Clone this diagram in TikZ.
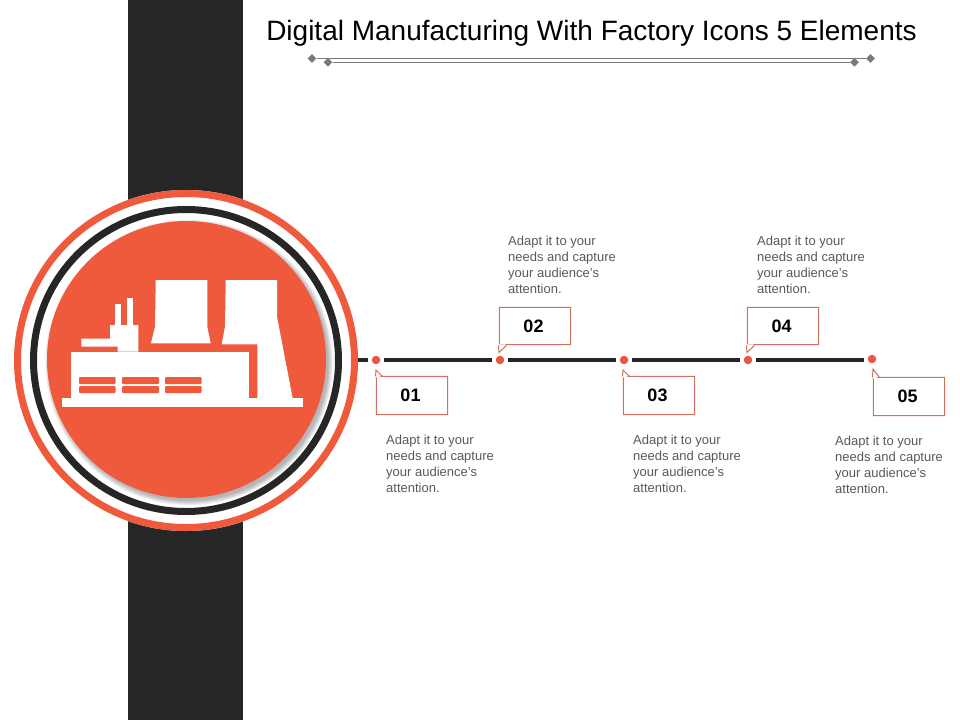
\documentclass[tikz,border=0pt]{standalone}
\usepackage{fontspec}
\setmainfont{Liberation Sans}
\usetikzlibrary{shapes.geometric}
\definecolor{accent}{HTML}{F05A3C}
\definecolor{dotcolor}{HTML}{E8583F}
\definecolor{band}{HTML}{262626}
\definecolor{bodytext}{HTML}{595959}
\definecolor{rulegray}{HTML}{7A7A7A}
\definecolor{boxline}{HTML}{D0705F}
\tikzset{
  x=1pt,y=-1pt,
  dotnode/.style={circle,fill=dotcolor,draw=none,minimum size=8.5pt,inner sep=0pt},
  seg/.style={draw=band,line width=4pt,shorten <=3.7pt,shorten >=3.7pt},
  boxnode/.style={rectangle,draw=boxline,fill=white,line width=1pt,minimum width=71pt,minimum height=37.5pt,inner sep=0pt,font=\fontsize{18}{20}\selectfont\bfseries,text=black},
  tip/.style={draw=boxline,line width=1pt,line join=miter},
  glow/.style={draw=accent,opacity=0.10,line width=3pt},
  bodytxt/.style={anchor=north west,inner sep=0pt,align=left,text=bodytext,font=\fontsize{13}{16}\selectfont},
  dia/.style={diamond,fill=rulegray,draw=none,minimum size=9pt,inner sep=0pt},
  rulel/.style={draw=rulegray,line width=1.3pt},
  icon/.style={fill=white,draw=none},
  win/.style={fill=accent,draw=none,rounded corners=1pt},
}
\begin{document}
\begin{tikzpicture}
\useasboundingbox (0,0) rectangle (960,720);
\fill[white] (0,0) rectangle (960,720);
\fill[band] (128,0) rectangle (243,720);

% title
\node[inner sep=0pt,text=black,font=\fontsize{28}{32}\selectfont] (title) at (591.5,33) {Digital Manufacturing With Factory Icons 5 Elements};
\node[dia] (r1a) at (312,58.5) {};
\node[dia] (r1b) at (870.5,58.5) {};
\node[dia] (r2a) at (328,62.3) {};
\node[dia] (r2b) at (854.5,62.3) {};
\draw[rulel] (r1a) -- (r1b);
\draw[rulel] (r2a) -- (r2b);

% roundel
\fill[white] (186,360.5) ellipse [x radius=172,y radius=170.5];
\draw[accent,line width=7pt] (186,360.5) ellipse [x radius=168.5,y radius=167];
\draw[band,line width=7pt] (186,360.5) ellipse [x radius=152.5,y radius=151];
\foreach \r in {1,...,10}{
  \fill[black,opacity=0.03] (189,362.5) ellipse [x radius=138.5+\r*0.55,y radius=137.5+\r*0.55];
}
\fill[accent] (186.5,359.5) ellipse [x radius=139.5,y radius=138.5];

% factory icon
\fill[icon] (62,398) rectangle (303.3,407);
\fill[icon] (71,351.7) rectangle (249.3,398.5);
\fill[icon] (225.7,280) -- (277,280) -- (277,316.7) -- (292.7,398.5) -- (257.3,398.5) -- (257.3,344.3) -- (221.7,344.3) -- (225,326.7) -- cycle;
\fill[icon] (155.7,280) -- (207.3,280) -- (207.3,326.7) -- (210.7,343.3) -- (151,343.3) -- (155,326.7) -- cycle;
\fill[icon] (110,325) -- (138.3,325) -- (138.3,351.7) -- (117.7,351.7) -- (117.7,346.7) -- (81.3,346.7) -- (81.3,338.7) -- (110,338.7) -- cycle;
\fill[icon] (114.7,304) rectangle (121,325.5);
\fill[icon] (127.3,298) rectangle (133.3,325.5);
\foreach \xa/\xb in {79/115.7,122/159,165/201.7}{
  \fill[win] (\xa,377) rectangle (\xb,384);
  \fill[win] (\xa,386) rectangle (\xb,393);
}

% timeline
\coordinate (start) at (358,360);
\node[dotnode] (d1) at (376,360) {};
\node[dotnode] (d2) at (500,360) {};
\node[dotnode] (d3) at (624,360) {};
\node[dotnode] (d4) at (748,360) {};
\node[dotnode] (d5) at (872,359) {};
\draw[draw=band,line width=4pt,shorten >=3.7pt] (start) -- (d1);
\draw[seg] (d1) -- (d2);
\draw[seg] (d2) -- (d3);
\draw[seg] (d3) -- (d4);
\draw[draw=band,line width=4pt,shorten <=3.7pt,shorten >=7.7pt] (d4) -- (d5 |- d4);

% callouts
\foreach \n/\cx/\cy/\lab in {c1/411.5/395.7/01,c2/534.5/326.2/02,c3/658.5/395.7/03,c4/782.5/326.2/04,c5/908.5/396.7/05}{
  \draw[glow] (\cx-35.5,\cy-18.75) rectangle (\cx+35.5,\cy+18.75);
  \node[boxnode] (\n) at (\cx,\cy) {\kern-2pt\lab};
}
% pointers
\foreach \n/\d in {c1/d1,c3/d3,c5/d5}{
  \coordinate (t) at ([xshift=0.5pt,yshift=-10pt]\n.north west |- \d.center);
  \fill[white] ([xshift=0.5pt,yshift=-1pt]\n.north west) -- ([xshift=6.5pt,yshift=-1pt]\n.north west) -- ([xshift=0.5pt,yshift=2pt]\n.north west) -- cycle;
  \draw[tip] (\n.north west) -- (t) -- ([xshift=7pt]\n.north west);
}
\foreach \n/\d in {c2/d2,c4/d4}{
  \coordinate (t) at ([xshift=0.5pt,yshift=7.5pt]\n.south west |- \d.center);
  \fill[white] ([xshift=0.5pt,yshift=1pt]\n.south west) -- ([xshift=7.5pt,yshift=1pt]\n.south west) -- ([xshift=0.5pt,yshift=-2pt]\n.south west) -- cycle;
  \draw[tip] (\n.south west) -- (t) -- ([xshift=8pt]\n.south west);
}

% body text
\node[bodytxt] (t1) at (386,435) {Adapt it to your\\needs and capture\\your audience's\\attention.};
\node[bodytxt] (t2) at (508,236) {Adapt it to your\\needs and capture\\your audience's\\attention.};
\node[bodytxt] (t3) at (633,435) {Adapt it to your\\needs and capture\\your audience's\\attention.};
\node[bodytxt] (t4) at (757,236) {Adapt it to your\\needs and capture\\your audience's\\attention.};
\node[bodytxt] (t5) at (835,436) {Adapt it to your\\needs and capture\\your audience's\\attention.};
\end{tikzpicture}
\end{document}
